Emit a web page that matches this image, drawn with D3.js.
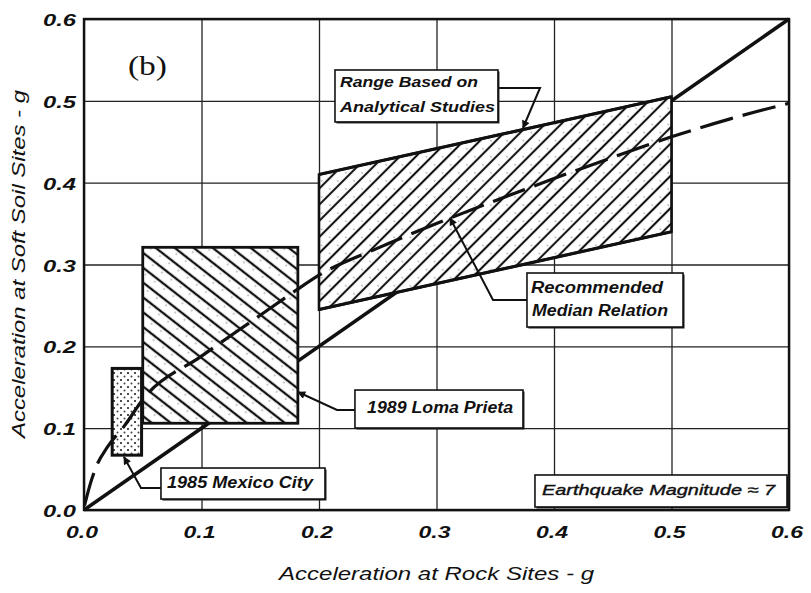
<!DOCTYPE html>
<html>
<head>
<meta charset="utf-8">
<script src="https://cdn.jsdelivr.net/npm/d3@7/dist/d3.min.js"></script>
<style>
  html, body { margin: 0; padding: 0; background: #fff; }
  svg { display: block; }
  .lbl { font-family: "Liberation Sans", Arial, sans-serif; font-style: italic; fill: #111; }
</style>
</head>
<body>
<svg id="chart" width="811" height="593"></svg>
<script>
// ---- data ---------------------------------------------------------------
const xTicks = [0, 0.1, 0.2, 0.3, 0.4, 0.5, 0.6];
const yTicks = [0, 0.1, 0.2, 0.3, 0.4, 0.5, 0.6];
const tickLabels = ["0.0", "0.1", "0.2", "0.3", "0.4", "0.5", "0.6"];

// equal acceleration line (soft soil = rock)
const equalRock = [0, 0.6];
const equalSoil = [0, 0.6];

// recommended median relation
const medianRock = [0, 0.006, 0.011, 0.02, 0.035, 0.05, 0.1, 0.15, 0.18, 0.2, 0.25, 0.3, 0.35, 0.4, 0.45, 0.5, 0.55, 0.6];
const medianSoil = [0.003, 0.035, 0.055, 0.077, 0.104, 0.135, 0.188, 0.238, 0.268, 0.287, 0.32, 0.35, 0.378, 0.405, 0.431, 0.456, 0.478, 0.497];

// range based on analytical studies
const rangeRock = [0.2, 0.5];
const rangeUpper = [0.41, 0.505];
const rangeLower = [0.245, 0.34];

// recorded ranges
const lomaRock = [0.05, 0.182];
const lomaSoil = [0.106, 0.321];
const mexicoRock = [0.024, 0.049];
const mexicoSoil = [0.067, 0.173];

// ---- layout -------------------------------------------------------------
const W = 811, H = 593;
const margin = { top: 19, right: 22, bottom: 83, left: 84 };
const iw = W - margin.left - margin.right;
const ih = H - margin.top - margin.bottom;

const svg = d3.select("#chart");
svg.append("rect").attr("width", W).attr("height", H).attr("fill", "#fff");

const x = d3.scaleLinear().domain([0, 0.6]).range([margin.left, margin.left + iw]);
const y = d3.scaleLinear().domain([0, 0.6]).range([margin.top + ih, margin.top]);

// ---- patterns -----------------------------------------------------------
const defs = svg.append("defs");
function hatch(id, angle, spacing, width) {
  const p = defs.append("pattern").attr("id", id)
    .attr("patternUnits", "userSpaceOnUse")
    .attr("width", spacing).attr("height", spacing)
    .attr("patternTransform", `rotate(${angle})`);
  p.append("rect").attr("width", spacing).attr("height", spacing).attr("fill", "#fff");
  p.append("line")
    .attr("x1", spacing / 2).attr("x2", spacing / 2)
    .attr("y1", -1).attr("y2", spacing + 1)
    .attr("stroke", "#111").attr("stroke-width", width);
  return p;
}
const pb = hatch("hatchBand", 45, 11.4, 2.1);
const pl = hatch("hatchLoma", -52, 11.7, 2.3);
[pb, pl].forEach(p => {
  p.append("circle").attr("cx", 2).attr("cy", 3).attr("r", 0.7).attr("fill", "#777");
});

const dots = defs.append("pattern").attr("id", "dots")
  .attr("patternUnits", "userSpaceOnUse").attr("width", 7).attr("height", 7);
dots.append("rect").attr("width", 7).attr("height", 7).attr("fill", "#fff");
dots.append("circle").attr("cx", 2).attr("cy", 2).attr("r", 1.1).attr("fill", "#222");
dots.append("circle").attr("cx", 5.5).attr("cy", 5.5).attr("r", 1.0).attr("fill", "#444");

defs.append("marker").attr("id", "arrow")
  .attr("viewBox", "0 0 10 10").attr("refX", 9).attr("refY", 5)
  .attr("markerUnits", "userSpaceOnUse")
  .attr("markerWidth", 11).attr("markerHeight", 8)
  .attr("orient", "auto")
  .append("path").attr("d", "M0,0 L10,5 L0,10 Z").attr("fill", "#111");

// ---- grid ---------------------------------------------------------------
const gx = svg.append("g")
  .attr("transform", `translate(0,${margin.top + ih})`)
  .call(d3.axisBottom(x).tickValues(xTicks).tickSize(-ih).tickFormat(""));
const gy = svg.append("g")
  .attr("transform", `translate(${margin.left},0)`)
  .call(d3.axisLeft(y).tickValues(yTicks).tickSize(-iw).tickFormat(""));
[gx, gy].forEach(g => {
  g.select(".domain").remove();
  g.selectAll(".tick line").attr("stroke", "#222").attr("stroke-width", 1.3);
});

// ---- equal-acceleration line --------------------------------------------
const line = d3.line().x(d => x(d[0])).y(d => y(d[1]));
svg.append("path")
  .datum(d3.zip(equalRock, equalSoil))
  .attr("d", line)
  .attr("fill", "none").attr("stroke", "#111").attr("stroke-width", 3.6);

// ---- Mexico City box ----------------------------------------------------
svg.append("rect")
  .attr("x", x(mexicoRock[0])).attr("y", y(mexicoSoil[1]))
  .attr("width", x(mexicoRock[1]) - x(mexicoRock[0]))
  .attr("height", y(mexicoSoil[0]) - y(mexicoSoil[1]))
  .attr("fill", "url(#dots)").attr("stroke", "#111").attr("stroke-width", 3);

// ---- Loma Prieta box ----------------------------------------------------
svg.append("rect")
  .attr("x", x(lomaRock[0])).attr("y", y(lomaSoil[1]))
  .attr("width", x(lomaRock[1]) - x(lomaRock[0]))
  .attr("height", y(lomaSoil[0]) - y(lomaSoil[1]))
  .attr("fill", "url(#hatchLoma)").attr("stroke", "#111").attr("stroke-width", 2.8);

// ---- analytical range band ----------------------------------------------
const bandData = rangeRock.map((r, i) => ({ r, lo: rangeLower[i], hi: rangeUpper[i] }));
const area = d3.area().x(d => x(d.r)).y0(d => y(d.lo)).y1(d => y(d.hi));
svg.append("path").datum(bandData).attr("d", area)
  .attr("fill", "url(#hatchBand)").attr("stroke", "#111").attr("stroke-width", 2.6)
  .attr("stroke-linejoin", "miter");
// heavier upper and lower bounds
[rangeUpper, rangeLower].forEach(bound => {
  svg.append("path").datum(d3.zip(rangeRock, bound)).attr("d", line)
    .attr("fill", "none").attr("stroke", "#111").attr("stroke-width", 3.2);
});

// ---- median relation (dashed) -------------------------------------------
svg.append("path")
  .datum(d3.zip(medianRock, medianSoil))
  .attr("d", d3.line().x(d => x(d[0])).y(d => y(d[1])).curve(d3.curveMonotoneX))
  .attr("fill", "none").attr("stroke", "#111").attr("stroke-width", 3.2)
  .attr("stroke-dasharray", "34,10").attr("stroke-dashoffset", -2);

// ---- plot frame ---------------------------------------------------------
svg.append("rect")
  .attr("x", margin.left).attr("y", margin.top).attr("width", iw).attr("height", ih)
  .attr("fill", "none").attr("stroke", "#111").attr("stroke-width", 2.4);

// ---- tick labels --------------------------------------------------------
svg.append("g").selectAll("text").data(xTicks).join("text")
  .attr("class", "lbl")
  .attr("x", d => x(d) - 2).attr("y", margin.top + ih + 28)
  .attr("text-anchor", "middle")
  .attr("font-size", 17).attr("font-weight", "bold")
  .attr("textLength", 32).attr("lengthAdjust", "spacingAndGlyphs")
  .text((d, i) => tickLabels[i]);

svg.append("g").selectAll("text").data(yTicks).join("text")
  .attr("class", "lbl")
  .attr("x", margin.left - 8).attr("y", d => y(d) + 7)
  .attr("text-anchor", "end")
  .attr("font-size", 17).attr("font-weight", "bold")
  .attr("textLength", 33).attr("lengthAdjust", "spacingAndGlyphs")
  .text((d, i) => tickLabels[i]);

// ---- axis titles --------------------------------------------------------
svg.append("text").attr("class", "lbl")
  .attr("x", x(0.3)).attr("y", 580)
  .attr("text-anchor", "middle").attr("font-size", 18)
  .attr("textLength", 315).attr("lengthAdjust", "spacingAndGlyphs")
  .text("Acceleration at Rock Sites - g");

svg.append("text").attr("class", "lbl")
  .attr("transform", `translate(25,${(438 + 90) / 2}) rotate(-90)`)
  .attr("text-anchor", "middle").attr("font-size", 18)
  .attr("textLength", 348).attr("lengthAdjust", "spacingAndGlyphs")
  .text("Acceleration at Soft Soil Sites - g");

// ---- panel tag ----------------------------------------------------------
svg.append("text")
  .attr("x", x(0.0374)).attr("y", y(0.5316))
  .attr("font-family", "'Liberation Serif', 'Times New Roman', serif")
  .attr("font-size", 27).attr("fill", "#111")
  .attr("textLength", 39).attr("lengthAdjust", "spacingAndGlyphs")
  .text("(b)");

// ---- callouts -----------------------------------------------------------
const callouts = [
  {
    box: [0.2136, 0.3523, 0.5377, 0.4742],
    lines: [
      { t: "Range Based on", x: 0.2179, y: 0.5169, len: 138 },
      { t: "Analytical Studies", x: 0.2179, y: 0.4864, len: 155 }
    ],
    size: 15, weight: "bold",
    leader: [[0.3523, 0.5157], [0.3881, 0.5157], [0.3736, 0.4668]]
  },
  {
    box: [0.377, 0.5098, 0.2896, 0.2236],
    lines: [
      { t: "Recommended", x: 0.3804, y: 0.2652, len: 132 },
      { t: "Median Relation", x: 0.3813, y: 0.2371, len: 136 }
    ],
    size: 16, weight: "bold",
    leader: [[0.377, 0.2566], [0.3481, 0.2566], [0.3115, 0.3568]]
  },
  {
    box: [0.2306, 0.3736, 0.1466, 0.1002],
    lines: [{ t: "1989 Loma Prieta", x: 0.2409, y: 0.1185, len: 146 }],
    size: 16, weight: "bold",
    leader: [[0.2306, 0.1222], [0.2153, 0.1222], [0.1821, 0.1442]]
  },
  {
    box: [0.0655, 0.2051, 0.0513, 0.0134],
    lines: [{ t: "1985 Mexico City", x: 0.0706, y: 0.0269, len: 146 }],
    size: 16, weight: "bold",
    leader: [[0.0655, 0.0269], [0.0485, 0.0269], [0.034, 0.0648]]
  },
  {
    box: [0.3838, 0.5983, 0.0428, 0.0037],
    lines: [{ t: "Earthquake Magnitude \u2248 7", x: 0.3898, y: 0.0183, len: 233 }],
    size: 15, weight: "normal",
    leader: null
  }
];

callouts.forEach(c => {
  if (c.leader) {
    svg.append("path").datum(c.leader).attr("d", line)
      .attr("fill", "none").attr("stroke", "#111").attr("stroke-width", 2)
      .attr("marker-end", "url(#arrow)");
  }
  const [bx0, bx1, byT, byB] = c.box;
  // soft shadow edge
  svg.append("rect")
    .attr("x", x(bx0) + 1.5).attr("y", y(byT) + 1.5)
    .attr("width", x(bx1) - x(bx0)).attr("height", y(byB) - y(byT))
    .attr("fill", "#222");
  svg.append("rect")
    .attr("x", x(bx0)).attr("y", y(byT))
    .attr("width", x(bx1) - x(bx0)).attr("height", y(byB) - y(byT))
    .attr("fill", "#fff").attr("stroke", "#111").attr("stroke-width", 1.6);
  c.lines.forEach(l => {
    svg.append("text").attr("class", "lbl")
      .attr("x", x(l.x)).attr("y", y(l.y))
      .attr("font-size", c.size).attr("font-weight", c.weight)
      .attr("stroke", c.weight === "normal" ? "#111" : "none")
      .attr("stroke-width", c.weight === "normal" ? 0.4 : 0)
      .attr("textLength", l.len).attr("lengthAdjust", "spacingAndGlyphs")
      .text(l.t);
  });
});
</script>
</body>
</html>
